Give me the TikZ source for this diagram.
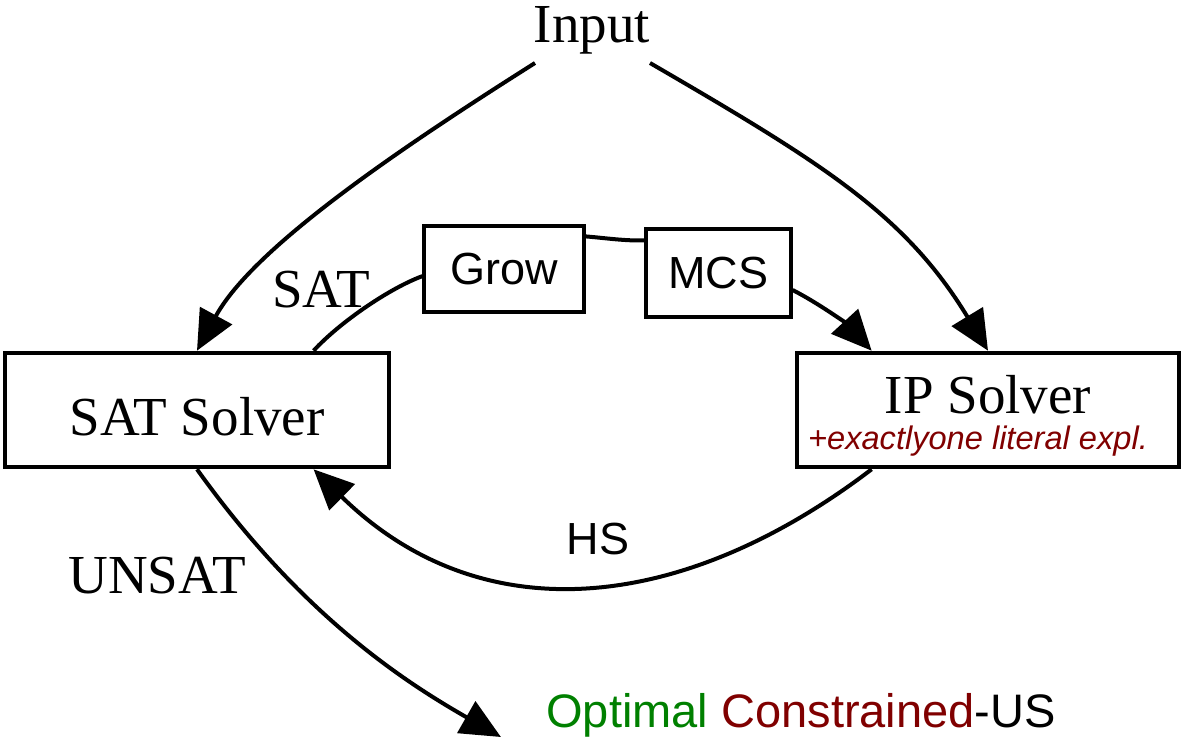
\documentclass[tikz,border=0pt]{standalone}
\usepackage{fontspec}
\setmainfont{Liberation Serif}
\setsansfont{Liberation Sans}
\usetikzlibrary{arrows.meta,calc}
\definecolor{optgreen}{RGB}{0,128,0}
\definecolor{darkred}{RGB}{128,0,0}
\begin{document}
\begin{tikzpicture}[x=0.5pt,y=-0.5pt,
  edge/.style={line width=2pt, draw=black},
  arr/.style={edge, -{Triangle[length=20pt,width=18pt]}},
  serif/.style={font=\fontsize{27.5}{33}\selectfont, inner sep=0pt},
  sans/.style={font=\sffamily\fontsize{22.5}{26}\selectfont, inner sep=0pt},
  solverbox/.style={draw, line width=2.3pt, minimum width=192pt, minimum height=57pt, inner sep=0pt},
  smallbox/.style={draw, line width=1.6pt, inner sep=0pt, font=\sffamily\fontsize{22.5}{26}\selectfont},
  note/.style={font=\sffamily\itshape\fontsize{16.3}{19}\selectfont, text=darkred, inner sep=0pt},
  result/.style={font=\sffamily\fontsize{23.5}{28}\selectfont, inner sep=0pt}
]
\useasboundingbox (0,0) rectangle (1189,743);

% nodes
\node[serif, anchor=base] (input) at (592,43) {Input};
\node[solverbox] (sat) at (197,410) {};
\node[serif, anchor=base] (sattxt) at (197,435) {SAT Solver};
\node[solverbox, minimum width=191pt] (ip) at (988,410) {};
\node[serif, anchor=base] (iptxt) at (988,413) {IP Solver};
\node[note, anchor=base] (ipnote) at (978,449) {+exactlyone literal expl.};
\node[smallbox, minimum width=80pt, minimum height=43pt] (grow) at (504,269) {Grow};
\node[smallbox, minimum width=72.5pt, minimum height=44pt] (mcs) at (718.5,273) {MCS};
\node[serif, anchor=base] (satlbl) at (321,307) {SAT};
\node[serif, anchor=base] (unsatlbl) at (157,593) {UNSAT};
\node[sans, anchor=base] (hslbl) at (598,554) {HS};
\node[result, anchor=base] (res) at (801,727) {\textcolor{optgreen}{Optimal} \textcolor{darkred}{Constrained}-US};

% connectors
\draw[arr] ($(input.base)+(-57,20)$) .. controls (407,144) and (254,246) .. (sat.north);
\draw[arr] ($(input.base)+(58,20)$) .. controls (822,163) and (905,214) .. (ip.north);
\draw[edge] ($(sat.north west)!0.8!(sat.north east)$) .. controls (340,322) and (390,288) .. ($(grow.south west)!0.42!(grow.north west)$);
\draw[edge] ($(grow.north east)+(0,12)$) .. controls (605,238) and (625,241) .. ($(mcs.north west)+(0,13)$);
\draw[arr] ($(mcs.east)+(0,17)$) .. controls (820,304) and (848,325) .. ($(ip.north west)!0.199!(ip.north east)$);
\draw[arr] ($(ip.south west)!0.199!(ip.south east)$) .. controls (683,613) and (482,634) .. ($(sat.south west)!0.8!(sat.south east)$);
\draw[arr] (sat.south) .. controls (302,616) and (405,682) .. ($(res.base west)+(-45,10)$);
\end{tikzpicture}
\end{document}
